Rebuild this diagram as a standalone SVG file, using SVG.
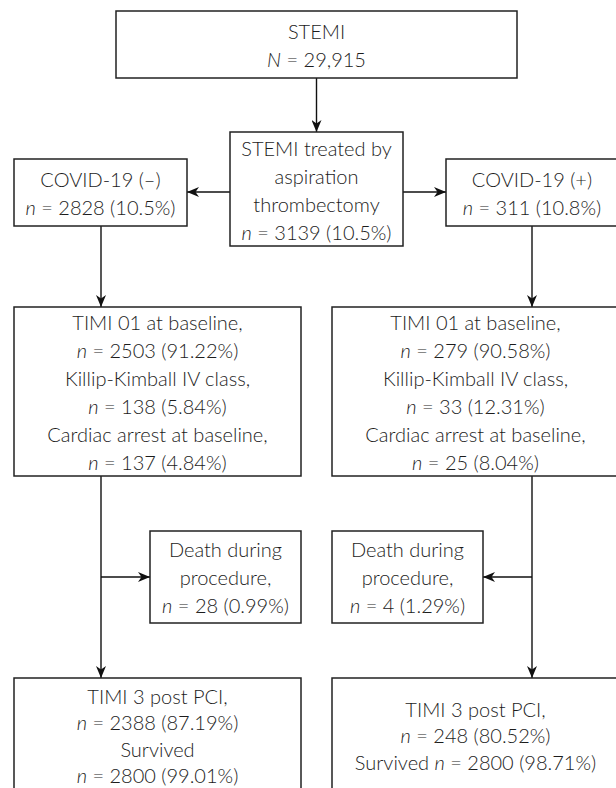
<svg xmlns="http://www.w3.org/2000/svg" width="616" height="788" viewBox="0 0 616 788">
<style>
.box{fill:#fff;stroke:#222;stroke-width:1.5}
.t{font-family:Lato,"Open Sans","Liberation Sans",sans-serif;font-weight:300;font-size:20px;fill:#1c1c1c;text-anchor:middle;dominant-baseline:central}
.i{font-style:italic}
.c{fill:none;stroke:#111;stroke-width:1.4}
</style>
<defs>
<marker id="ah" viewBox="0 0 12 10" refX="12" refY="5" markerWidth="12" markerHeight="10" markerUnits="userSpaceOnUse" orient="auto">
<path d="M0,0 L12,5 L0,10 L3.5,5 z" fill="#111"/>
</marker>
</defs>
<rect width="616" height="788" fill="#fff"/>
<g id="connectors">
<line class="c" x1="316.5" y1="78" x2="316.5" y2="132" marker-end="url(#ah)"/>
<line class="c" x1="230" y1="192" x2="187" y2="192" marker-end="url(#ah)"/>
<line class="c" x1="403" y1="192" x2="446" y2="192" marker-end="url(#ah)"/>
<line class="c" x1="101" y1="226" x2="101" y2="307" marker-end="url(#ah)"/>
<line class="c" x1="532" y1="226" x2="532" y2="307" marker-end="url(#ah)"/>
<line class="c" x1="101" y1="476" x2="101" y2="678" marker-end="url(#ah)"/>
<line class="c" x1="101" y1="577" x2="150" y2="577" marker-end="url(#ah)"/>
<line class="c" x1="532" y1="476" x2="532" y2="678" marker-end="url(#ah)"/>
<line class="c" x1="532" y1="577" x2="483" y2="577" marker-end="url(#ah)"/>
</g>
<g id="stemi">
<rect class="box" x="116" y="11" width="401" height="67"/>
<text class="t" x="316.5" y="31">STEMI</text>
<text class="t" x="316.5" y="59"><tspan class="i">N</tspan> = 29,915</text>
</g>
<g id="treated">
<rect class="box" x="230" y="132" width="173" height="114"/>
<text class="t" x="316.5" y="148">STEMI treated by</text>
<text class="t" x="316.5" y="176">aspiration</text>
<text class="t" x="316.5" y="204">thrombectomy</text>
<text class="t" x="316.5" y="232"><tspan class="i">n</tspan> = 3139 (10.5%)</text>
</g>
<g id="covid-neg">
<rect class="box" x="14" y="159" width="173" height="67"/>
<text class="t" x="100.5" y="179">COVID-19 (–)</text>
<text class="t" x="100.5" y="207"><tspan class="i">n</tspan> = 2828 (10.5%)</text>
</g>
<g id="covid-pos">
<rect class="box" x="446" y="159" width="174" height="67"/>
<text class="t" x="532" y="179">COVID-19 (+)</text>
<text class="t" x="532" y="207"><tspan class="i">n</tspan> = 311 (10.8%)</text>
</g>
<g id="timi-neg">
<rect class="box" x="14" y="307" width="287" height="169"/>
<text class="t" x="157.5" y="322">TIMI 01 at baseline,</text>
<text class="t" x="157.5" y="350"><tspan class="i">n</tspan> = 2503 (91.22%)</text>
<text class="t" x="157.5" y="378">Killip-Kimball IV class,</text>
<text class="t" x="157.5" y="406"><tspan class="i">n</tspan> = 138 (5.84%)</text>
<text class="t" x="157.5" y="434">Cardiac arrest at baseline,</text>
<text class="t" x="157.5" y="462"><tspan class="i">n</tspan> = 137 (4.84%)</text>
</g>
<g id="timi-pos">
<rect class="box" x="332" y="307" width="290" height="169"/>
<text class="t" x="475.5" y="322">TIMI 01 at baseline,</text>
<text class="t" x="475.5" y="350"><tspan class="i">n</tspan> = 279 (90.58%)</text>
<text class="t" x="475.5" y="378">Killip-Kimball IV class,</text>
<text class="t" x="475.5" y="406"><tspan class="i">n</tspan> = 33 (12.31%)</text>
<text class="t" x="475.5" y="434">Cardiac arrest at baseline,</text>
<text class="t" x="475.5" y="462"><tspan class="i">n</tspan> = 25 (8.04%)</text>
</g>
<g id="death-neg">
<rect class="box" x="150" y="531" width="151" height="92"/>
<text class="t" x="225.5" y="549">Death during</text>
<text class="t" x="225.5" y="577">procedure,</text>
<text class="t" x="225.5" y="605"><tspan class="i">n</tspan> = 28 (0.99%)</text>
</g>
<g id="death-pos">
<rect class="box" x="332" y="531" width="151" height="92"/>
<text class="t" x="407.5" y="549">Death during</text>
<text class="t" x="407.5" y="577">procedure,</text>
<text class="t" x="407.5" y="605"><tspan class="i">n</tspan> = 4 (1.29%)</text>
</g>
<g id="post-neg">
<rect class="box" x="14" y="678" width="287" height="130"/>
<text class="t" x="157.5" y="696">TIMI 3 post PCI,</text>
<text class="t" x="157.5" y="722"><tspan class="i">n</tspan> = 2388 (87.19%)</text>
<text class="t" x="157.5" y="749">Survived</text>
<text class="t" x="157.5" y="775"><tspan class="i">n</tspan> = 2800 (99.01%)</text>
</g>
<g id="post-pos">
<rect class="box" x="332" y="678" width="290" height="130"/>
<text class="t" x="475.5" y="709">TIMI 3 post PCI,</text>
<text class="t" x="475.5" y="735"><tspan class="i">n</tspan> = 248 (80.52%)</text>
<text class="t" x="475.5" y="762">Survived <tspan class="i">n</tspan> = 2800 (98.71%)</text>
</g>
</svg>
